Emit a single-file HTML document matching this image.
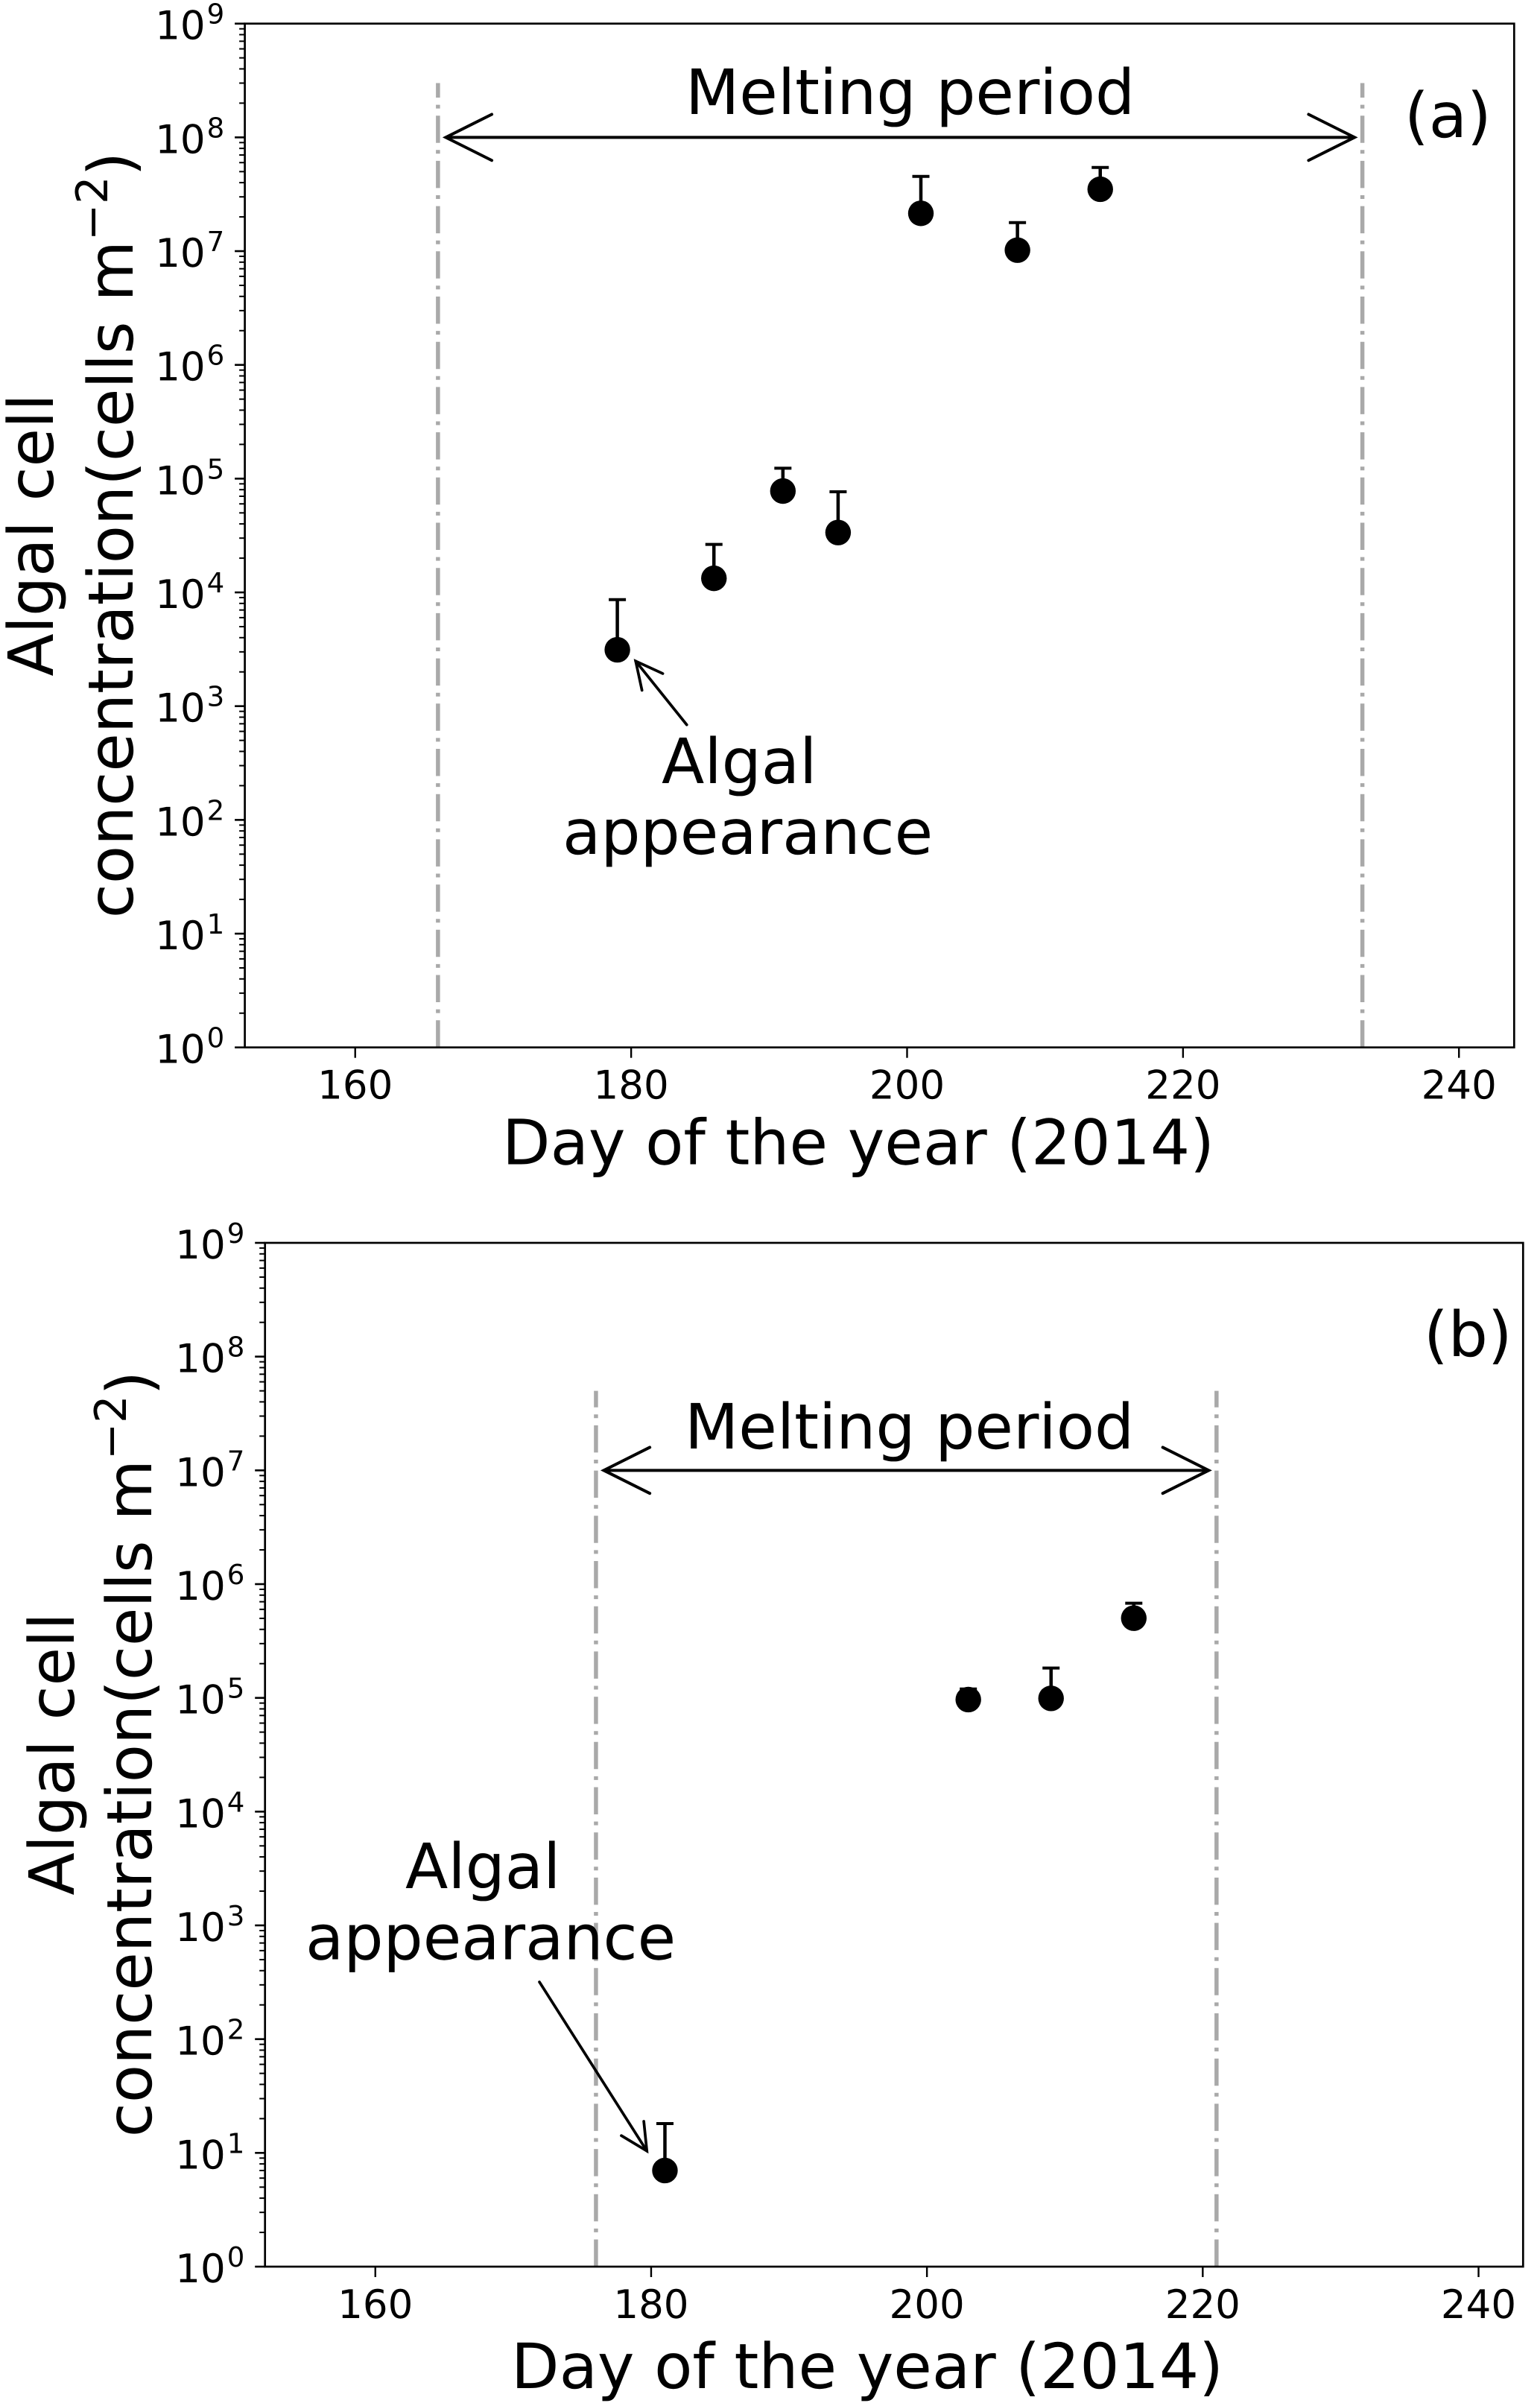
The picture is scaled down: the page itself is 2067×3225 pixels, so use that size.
<!DOCTYPE html>
<html lang="en">
<head>
<meta charset="utf-8">
<title>Algal cell concentration</title>
<style>
html,body{margin:0;padding:0;background:#fff;}
svg{display:block;}
text{font-family:"DejaVu Sans","Liberation Sans",sans-serif;fill:#000;text-rendering:geometricPrecision;}
.lab{font-size:83.8px;}
</style>
</head>
<body>
<svg id="chart" xmlns="http://www.w3.org/2000/svg" width="2067" height="3225" viewBox="0 0 2067 3225">
  <rect x="0" y="0" width="2067" height="3225" fill="#fff"/>
  <g id="panel-a"></g>
  <g id="panel-b"></g>

  <text class="lab" x="1152" y="1562.7" text-anchor="middle">Day of the year (2014)</text>
  <text class="lab" transform="translate(71 718) rotate(-90)" text-anchor="middle">Algal cell</text>
  <text class="lab" transform="translate(178 718) rotate(-90)" text-anchor="middle">concentration(cells m<tspan font-size="58.7" dy="-34">−2</tspan><tspan dy="34">)</tspan></text>
  <text class="lab" x="920" y="153">Melting period</text>
  <text class="lab" x="1885" y="184">(a)</text>
  <text class="lab" x="888" y="1051">Algal</text>
  <text class="lab" x="755" y="1146">appearance</text>

  <text class="lab" x="1164" y="3205" text-anchor="middle">Day of the year (2014)</text>
  <text class="lab" transform="translate(99 2354) rotate(-90)" text-anchor="middle">Algal cell</text>
  <text class="lab" transform="translate(203 2354) rotate(-90)" text-anchor="middle">concentration(cells m<tspan font-size="58.7" dy="-34">−2</tspan><tspan dy="34">)</tspan></text>
  <text class="lab" x="919" y="1944">Melting period</text>
  <text class="lab" x="1911" y="1820">(b)</text>
  <text class="lab" x="544" y="2534">Algal</text>
  <text class="lab" x="410" y="2629.3">appearance</text>
</svg>
<script>
// ---- chart data ----
const xTickLabels = [160, 180, 200, 220, 240];
const yDecadeExponents = [0, 1, 2, 3, 4, 5, 6, 7, 8, 9];
const yMinorMultipliers = [2, 3, 4, 5, 6, 7, 8, 9];

const panelADays = [179, 186, 191, 195, 201, 208, 214];
const panelAValues = [3130, 13300, 77800, 33600, 2.15e7, 1.02e7, 3.5e7];
const panelAUpper = [8640, 26400, 123600, 76600, 4.54e7, 1.78e7, 5.44e7];
const panelAMeltDays = [166, 233];
const panelAMeltLineTop = 3e8;
const panelAMeltArrowLevel = 1e8;
const panelAAnnotationTail = [184.03, 686];
const panelAAnnotationTip = [180.33, 2487];

const panelBDays = [181, 203, 209, 215];
const panelBValues = [7, 96600, 99000, 5.02e5];
const panelBUpper = [18.1, 1.197e5, 1.828e5, 6.79e5];
const panelBMeltDays = [176, 221];
const panelBMeltLineTop = 5e7;
const panelBMeltArrowLevel = 1e7;
const panelBAnnotationTail = [171.9, 318];
const panelBAnnotationTip = [179.69, 10.4];

// ---- helpers ----
const NS = 'http://www.w3.org/2000/svg';
function mk(parent, tag, attrs) {
  const el = document.createElementNS(NS, tag);
  for (const k in attrs) el.setAttribute(k, attrs[k]);
  parent.appendChild(el);
  return el;
}
function headPoints(tipX, tipY, fromX, fromY, side) {
  const a = Math.atan2(fromY - tipY, fromX - tipX);
  const t = 26.57 * Math.PI / 180;
  return [
    [tipX + side * Math.cos(a + t), tipY + side * Math.sin(a + t)],
    [tipX, tipY],
    [tipX + side * Math.cos(a - t), tipY + side * Math.sin(a - t)]
  ].map(p => p[0].toFixed(2) + ',' + p[1].toFixed(2)).join(' ');
}

function drawPanel(root, box, days, values, upper, meltDays, meltTop, meltLevel, annTail, annTip) {
  const xScale = d => box.left + (d - box.xMin) * (box.right - box.left) / (box.xMax - box.xMin);
  const yScale = v => box.bottom - Math.log10(v) * (box.bottom - box.top) / 9;

  // melting period reference lines
  meltDays.forEach(d => {
    const line = mk(root, 'line', {x1: xScale(d), x2: xScale(d), y1: box.bottom, y2: yScale(meltTop), stroke: '#a9a9a9', 'stroke-width': 5.5, 'stroke-dasharray': '36.5 9.6 5 9.6'});
    
    
  });

  // melting period double arrow
  const yArrow = yScale(meltLevel);
  const x1 = xScale(meltDays[0]) + 10.5;
  const x2 = xScale(meltDays[1]) - 10.5;
  const shaft = mk(root, 'line', {x1: x1, x2: x2, y1: yArrow, y2: yArrow, stroke: '#000', 'stroke-width': 4});
  
  
  const headL = mk(root, 'polyline', {points: headPoints(x1, yArrow, x2, yArrow, 69), fill: 'none', stroke: '#000', 'stroke-width': 4, 'stroke-linecap': 'round', 'stroke-linejoin': 'miter'});
  
  
  const headR = mk(root, 'polyline', {points: headPoints(x2, yArrow, x1, yArrow, 69), fill: 'none', stroke: '#000', 'stroke-width': 4, 'stroke-linecap': 'round', 'stroke-linejoin': 'miter'});
  
  

  // annotation arrow
  const tx = xScale(annTail[0]), ty = yScale(annTail[1]), px = xScale(annTip[0]), py = yScale(annTip[1]);
  const annShaft = mk(root, 'line', {x1: tx, y1: ty, x2: px, y2: py, stroke: '#000', 'stroke-width': 3.7, 'stroke-linecap': 'round'});
  
  
  const annHead = mk(root, 'polyline', {points: headPoints(px, py, tx, ty, 40), fill: 'none', stroke: '#000', 'stroke-width': 3.7, 'stroke-linecap': 'round'});
  
  

  // error bars and markers
  days.forEach((d, i) => {
    const x = xScale(d);
    const err = mk(root, 'line', {x1: x, x2: x, y1: yScale(values[i]), y2: yScale(upper[i]), stroke: '#000', 'stroke-width': 4.5});
    
    
    const cap = mk(root, 'line', {x1: x - 11.5, x2: x + 11.5, y1: yScale(upper[i]), y2: yScale(upper[i]), stroke: '#000', 'stroke-width': 4});
    
    
    const dot = mk(root, 'circle', {cx: x, cy: yScale(values[i]), r: 17.2, fill: '#000'});
    
    
  });

  // x ticks
  xTickLabels.forEach(v => {
    const x = xScale(v);
    const tick = mk(root, 'line', {x1: x, x2: x, y1: box.bottom, y2: box.bottom + 14, stroke: '#000', 'stroke-width': 2.4});
    
    
    const label = mk(root, 'text', {x: x, y: box.bottom + 69, 'text-anchor': 'middle', 'font-size': 53});
    
    
    label.textContent = String(v);
  });

  // y ticks
  yDecadeExponents.forEach(e => {
    const y = yScale(Math.pow(10, e));
    const tick = mk(root, 'line', {x1: box.left - 13.5, x2: box.left, y1: y, y2: y, stroke: '#000', 'stroke-width': 2.6});
    
    
    const label = mk(root, 'text', {x: box.left - 120.4, y: y + 21, 'font-size': 53});
    
    
    label.appendChild(document.createTextNode('10'));
    const sup = mk(label, 'tspan', {'font-size': 37.1, dy: -21, dx: 2});
    sup.textContent = String(e);
    if (e < 9) {
      yMinorMultipliers.forEach(m => {
        const ym = yScale(m * Math.pow(10, e));
        const minor = mk(root, 'line', {x1: box.left - 7.5, x2: box.left, y1: ym, y2: ym, stroke: '#000', 'stroke-width': 2});
        
        
      });
    }
  });

  // frame
  const frame = mk(root, 'rect', {x: box.left, y: box.top, width: box.right - box.left, height: box.bottom - box.top, fill: 'none', stroke: '#000', 'stroke-width': 2.7});
  
  
}

const panelABox = {left: 328.6, right: 2032.3, top: 31.7, bottom: 1405.7, xMin: 152, xMax: 244};
const panelBBox = {left: 355.7, right: 2044.3, top: 1668, bottom: 3042, xMin: 152, xMax: 243.23};

drawPanel(document.getElementById('panel-a'), panelABox, panelADays, panelAValues, panelAUpper, panelAMeltDays, panelAMeltLineTop, panelAMeltArrowLevel, panelAAnnotationTail, panelAAnnotationTip);
drawPanel(document.getElementById('panel-b'), panelBBox, panelBDays, panelBValues, panelBUpper, panelBMeltDays, panelBMeltLineTop, panelBMeltArrowLevel, panelBAnnotationTail, panelBAnnotationTip);
</script>
</body>
</html>
